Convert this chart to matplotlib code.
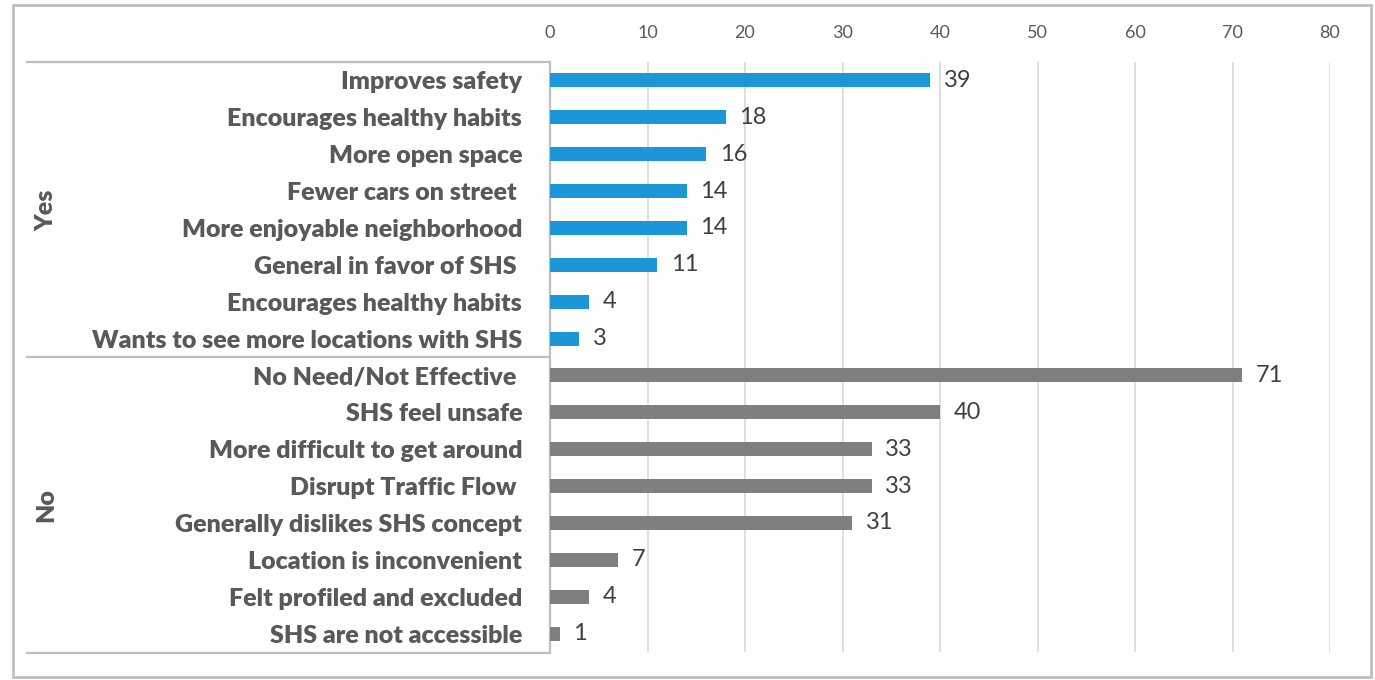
import matplotlib.pyplot as plt
from matplotlib.lines import Line2D
from matplotlib.patches import Rectangle

yes_labels = ["Improves safety", "Encourages healthy habits", "More open space",
              "Fewer cars on street ", "More enjoyable neighborhood",
              "General in favor of SHS ", "Encourages healthy habits",
              "Wants to see more locations with SHS"]
yes_values = [39, 18, 16, 14, 14, 11, 4, 3]

no_labels = ["No Need/Not Effective ", "SHS feel unsafe", "More difficult to get around",
             "Disrupt Traffic Flow ", "Generally dislikes SHS concept",
             "Location is inconvenient", "Felt profiled and excluded",
             "SHS are not accessible"]
no_values = [71, 40, 33, 33, 31, 7, 4, 1]

xticks = [0, 10, 20, 30, 40, 50, 60, 70, 80]

BLUE = "#1b96d6"
GRAY = "#7f7f7f"
TXT = "#595959"
FONT = ["Lato", "DejaVu Sans"]

labels = yes_labels + no_labels
values = yes_values + no_values
colors = [BLUE] * len(yes_values) + [GRAY] * len(no_values)
ypos = list(range(len(labels)))

fig = plt.figure(figsize=(13.75, 6.8), dpi=100)
W, H = 1375, 680

def fx(px):
    return px / W

def fy(py):
    return 1 - py / H

ax = fig.add_axes([fx(550), fy(652), fx(1330) - fx(550), fy(62) - fy(652)])
ax.barh(ypos, values, height=0.38, color=colors, zorder=3)
ax.set_ylim(len(labels) - 0.5, -0.5)
ax.set_xlim(0, 80)

ax.xaxis.tick_top()
ax.set_xticks(xticks)
ax.set_xticklabels([str(t) for t in xticks], family=FONT, fontsize=13, color=TXT)
ax.tick_params(axis="x", length=0, pad=15)
ax.grid(axis="x", color="#d9d9d9", linewidth=1.2, zorder=0)

ax.set_yticks(ypos)
ax.set_yticklabels(labels, family=FONT, fontsize=18, fontweight="heavy", color=TXT)
ax.tick_params(axis="y", length=0, pad=20)

for s in ["top", "right", "bottom"]:
    ax.spines[s].set_visible(False)
ax.spines["left"].set_color("#bfbfbf")
ax.spines["left"].set_linewidth(1.6)

for y, v in zip(ypos, values):
    ax.text(v + 1.4, y, str(v), va="center", ha="left", family=FONT,
            fontsize=17, color="#404040")

# group box lines on the category side
box_kw = dict(color="#bfbfbf", linewidth=1.6, transform=fig.transFigure)
for py in [62, 357, 653]:
    fig.add_artist(Line2D([fx(27), fx(550)], [fy(py), fy(py)], **box_kw))

fig.text(fx(46), fy(210), "Yes", rotation=90, ha="center", va="center",
         family=FONT, fontsize=18, fontweight="heavy", color=TXT)
fig.text(fx(46), fy(505), "No", rotation=90, ha="center", va="center",
         family=FONT, fontsize=18, fontweight="heavy", color=TXT)

# outer frame
fig.add_artist(Rectangle((fx(13), fy(677)), fx(1371) - fx(13), fy(5) - fy(677),
                         fill=False, edgecolor="#bfbfbf", linewidth=2,
                         transform=fig.transFigure))

fig.savefig("out.png", dpi=100, facecolor="white")
